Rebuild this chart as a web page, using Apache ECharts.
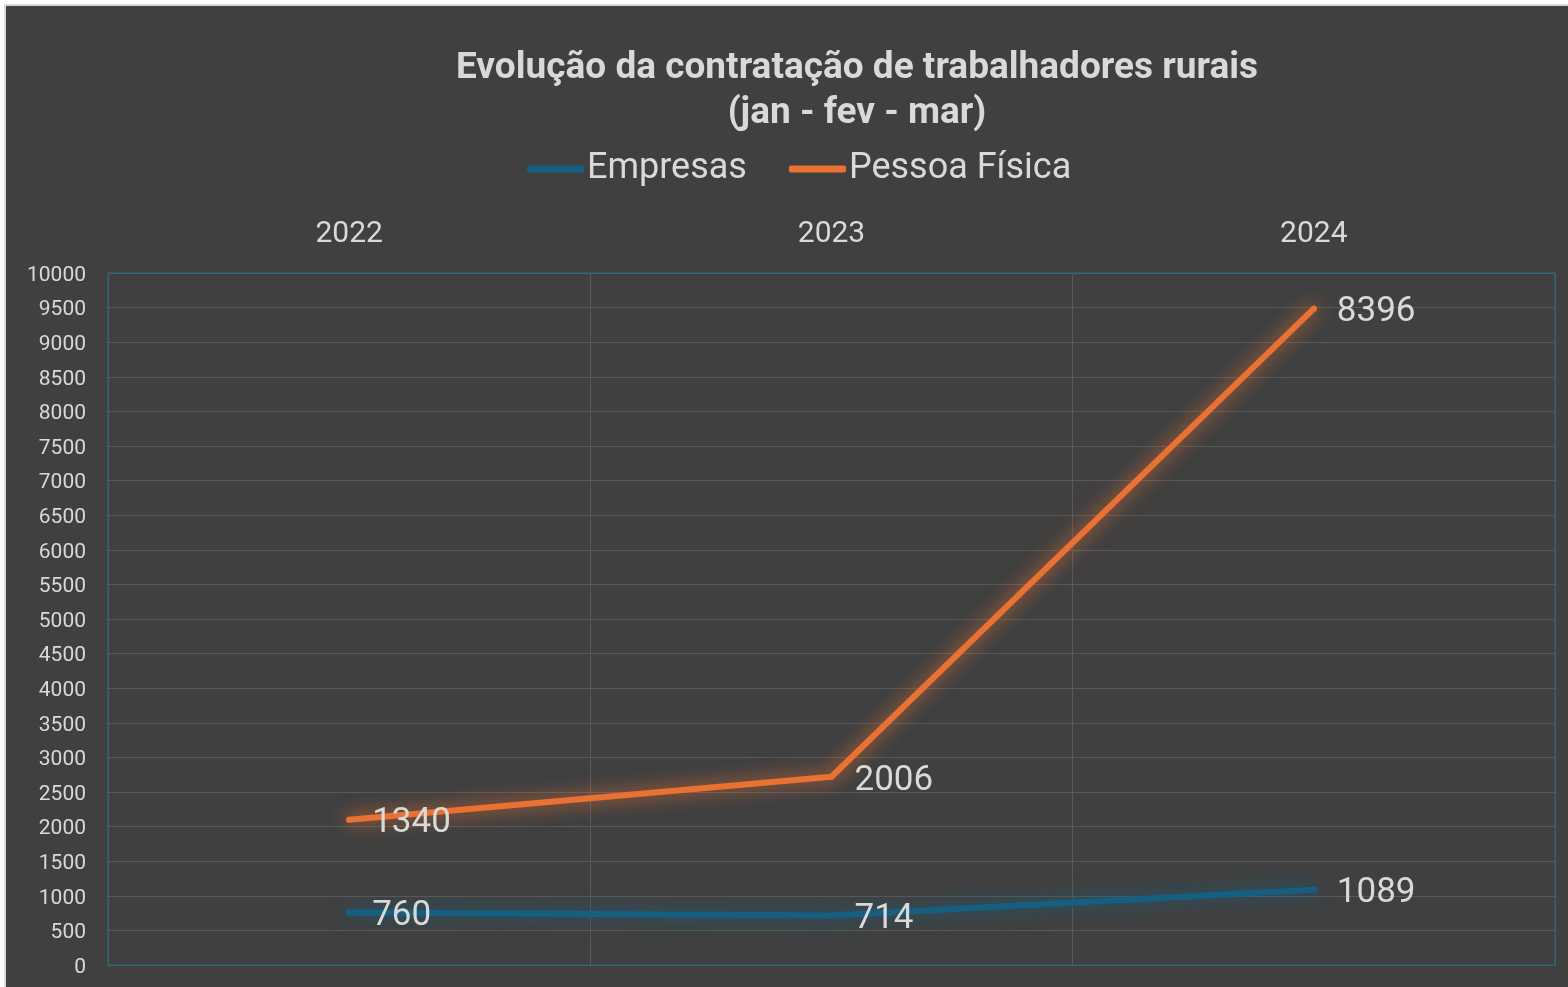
<!DOCTYPE html>
<html>
<head>
<meta charset="utf-8">
<script src="https://cdn.jsdelivr.net/npm/echarts@6/dist/echarts.min.js"></script>
<style>
  html, body { margin: 0; padding: 0; background: #ffffff; }
  #wrap {
    position: absolute;
    left: 4px;
    top: 4px;
    border-left: 2px solid #d9d9d9;
    border-top: 2px solid #d9d9d9;
  }
  #chart { width: 1562px; height: 981px; }
</style>
</head>
<body>
<div id="wrap"><div id="chart"></div></div>
<script>
// anos (eixo x, no topo)
const anos = ['2022', '2023', '2024']
// contratações no trimestre jan-fev-mar
const empresas = [760, 714, 1089]
const pessoaFisica = [1340, 2006, 8396]

const corEmpresas = '#156082'
const corPessoa = '#e97132'
const corTexto = '#d9d9d9'

const chart = echarts.init(document.getElementById('chart'))

function serie (name, data, color) {
  return {
    name: name,
    type: 'line',
    stack: 'total',
    data: data,
    symbol: 'circle',
    symbolSize: 6,
    itemStyle: { color: color },
    lineStyle: {
      color: color,
      width: 6,
      cap: 'round',
      join: 'round',
      shadowColor: color,
      shadowBlur: 18
    },
    label: {
      show: true,
      position: 'right',
      distance: 20,
      offset: [0, 4],
      color: corTexto,
      fontSize: 35,
      fontFamily: 'Roboto'
    },
    emphasis: { disabled: true },
    animation: false
  }
}

const option = {
  backgroundColor: '#404040',
  textStyle: { fontFamily: 'Roboto' },
  title: {
    text: 'Evolução da contratação de trabalhadores rurais\n(jan - fev - mar)',
    left: 846,
    top: 35,
    textAlign: 'center',
    textStyle: {
      color: corTexto,
      fontSize: 37,
      fontWeight: 'bold',
      lineHeight: 45,
      fontFamily: 'Roboto'
    }
  },
  legend: {
    data: ['Empresas', 'Pessoa Física'],
    left: 516,
    top: 140,
    icon: 'roundRect',
    itemWidth: 57,
    itemHeight: 7,
    itemGap: 42,
    textStyle: { color: corTexto, fontSize: 36, fontFamily: 'Roboto', padding: [0, 0, 0, -2] }
  },
  grid: {
    left: 102,
    right: 13,
    top: 267,
    bottom: 22,
    show: true,
    borderColor: corEmpresas,
    borderWidth: 2,
    backgroundColor: 'transparent'
  },
  xAxis: {
    type: 'category',
    position: 'top',
    data: anos,
    boundaryGap: true,
    axisLine: { show: false },
    axisTick: { show: false },
    axisLabel: { color: corTexto, fontSize: 30, margin: 24 },
    splitLine: { show: true, lineStyle: { color: '#595959', width: 1 } }
  },
  yAxis: {
    type: 'value',
    min: 0,
    max: 10000,
    interval: 500,
    axisLine: { show: false },
    axisTick: { show: false },
    axisLabel: {
      color: corTexto,
      fontSize: 21,
      margin: 22,
      verticalAlign: 'top',
      lineHeight: 21,
      padding: [-8, 0, 0, 0],
      formatter: function (v) { return String(v) }
    },
    splitLine: { lineStyle: { color: '#595959', width: 1 } }
  },
  series: [
    serie('Empresas', empresas, corEmpresas),
    serie('Pessoa Física', pessoaFisica, corPessoa)
  ]
}

chart.setOption(option)
</script>
</body>
</html>
